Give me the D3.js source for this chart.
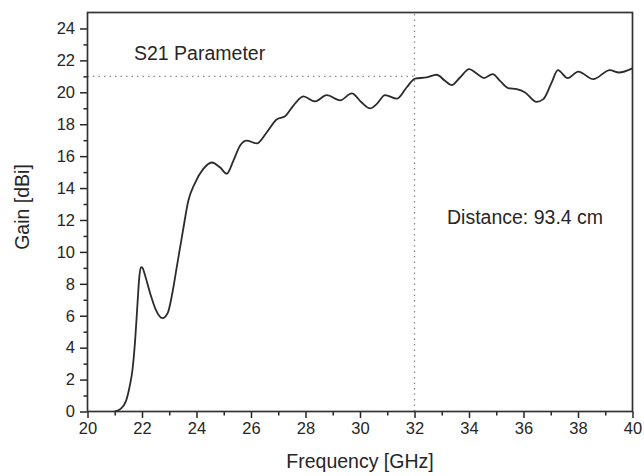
<!DOCTYPE html>
<html><head><meta charset="utf-8">
<script src="https://cdn.jsdelivr.net/npm/d3@7"></script>
<style>body{margin:0;background:#fff}svg{display:block}</style>
</head><body>
<svg id="c" width="644" height="476"></svg>
<script>
const freq = [21.0,21.2,21.4,21.55,21.65,21.75,21.84,21.9,21.96,22.02,22.1,22.3,22.5,22.75,22.95,23.1,23.3,23.5,23.7,23.94,24.25,24.56,24.86,25.11,25.35,25.6,25.84,26.21,26.58,26.94,27.25,27.55,27.92,28.35,28.78,29.27,29.7,30.06,30.37,30.61,30.92,31.35,31.71,32.02,32.45,32.81,33.12,33.36,33.67,34.01,34.28,34.55,34.87,35.14,35.44,35.75,36.06,36.48,36.73,37.03,37.26,37.62,38.01,38.56,39.17,39.5,40.0];
const gain = [0,0.15,0.6,1.6,2.6,4.5,6.9,8.4,9.05,9.0,8.6,7.4,6.4,5.85,6.2,7.3,9.3,11.3,13.2,14.3,15.2,15.6,15.3,14.9,15.7,16.66,16.97,16.8,17.5,18.3,18.5,19.15,19.74,19.43,19.82,19.5,19.93,19.36,18.99,19.26,19.82,19.6,20.3,20.86,20.93,21.1,20.72,20.45,20.93,21.45,21.18,20.89,21.14,20.72,20.26,20.2,19.99,19.4,19.57,20.6,21.39,20.89,21.3,20.82,21.39,21.24,21.5];
const xTicks = [20,22,24,26,28,30,32,34,36,38,40];
const yTicks = [0,2,4,6,8,10,12,14,16,18,20,22,24];
const refFreq = 32, refGain = 21;
const title = "S21 Parameter", note = "Distance: 93.4 cm";
const xLabel = "Frequency [GHz]", yLabel = "Gain [dBi]";

const svg = d3.select("#c");
const L = 87.5, R = 632.5, T = 12.5, B = 411.5;
const x = d3.scaleLinear().domain([20,40]).range([L,R]);
const y = d3.scaleLinear().domain([0,25]).range([B,T]);
const font = "'Liberation Sans', Arial, sans-serif";
const ink = "#262626";

// reference dotted lines
svg.append("line").attr("x1",x(20)).attr("x2",x(refFreq)).attr("y1",y(refGain)).attr("y2",y(refGain))
  .attr("stroke","#8a8a8a").attr("stroke-width",1.3).attr("stroke-dasharray","1.5,4");
svg.append("line").attr("x1",x(refFreq)).attr("x2",x(refFreq)).attr("y1",y(0)).attr("y2",y(25))
  .attr("stroke","#8a8a8a").attr("stroke-width",1.3).attr("stroke-dasharray","1.5,4");

// curve
const line = d3.line().x((d,i)=>x(freq[i])).y((d,i)=>y(gain[i])).curve(d3.curveMonotoneX);
svg.append("path").datum(gain).attr("d",line).attr("fill","none").attr("stroke","#2b2b2b").attr("stroke-width",1.8);

// axes
svg.append("g").attr("transform",`translate(0,${B})`)
  .call(d3.axisBottom(x).tickValues(xTicks).tickSize(6.5).tickPadding(4).tickFormat(d3.format("d")));
svg.append("g").attr("transform",`translate(${L},0)`)
  .call(d3.axisLeft(y).tickValues(yTicks).tickSize(7.5).tickPadding(5).tickFormat(d3.format("d")));
// minor ticks
svg.append("g").attr("transform",`translate(0,${B})`)
  .call(d3.axisBottom(x).tickValues(d3.range(21,40,2)).tickSize(4).tickFormat(""));
svg.append("g").attr("transform",`translate(${L},0)`)
  .call(d3.axisLeft(y).tickValues(d3.range(1,25,2)).tickSize(4).tickFormat(""));
svg.selectAll(".domain").remove();
svg.selectAll(".tick line").attr("stroke",ink).attr("stroke-width",1.5);
svg.selectAll(".tick text").attr("font-family",font).attr("font-size",16.5).attr("fill",ink);

// frame
svg.append("rect").attr("x",L).attr("y",T).attr("width",R-L).attr("height",B-T)
  .attr("fill","none").attr("stroke","#333").attr("stroke-width",1.7);

// texts
svg.append("text").attr("x",134).attr("y",60).text(title)
  .attr("font-family",font).attr("font-size",19.5).attr("fill",ink);
svg.append("text").attr("x",447).attr("y",224).text(note)
  .attr("font-family",font).attr("font-size",19.5).attr("fill",ink);
svg.append("text").attr("x",(L+R)/2).attr("y",468).attr("text-anchor","middle").text(xLabel)
  .attr("font-family",font).attr("font-size",19.5).attr("fill",ink);
svg.append("text").attr("transform",`translate(29,207) rotate(-90)`).attr("text-anchor","middle").text(yLabel)
  .attr("font-family",font).attr("font-size",19.5).attr("fill",ink);
</script>
</body></html>
